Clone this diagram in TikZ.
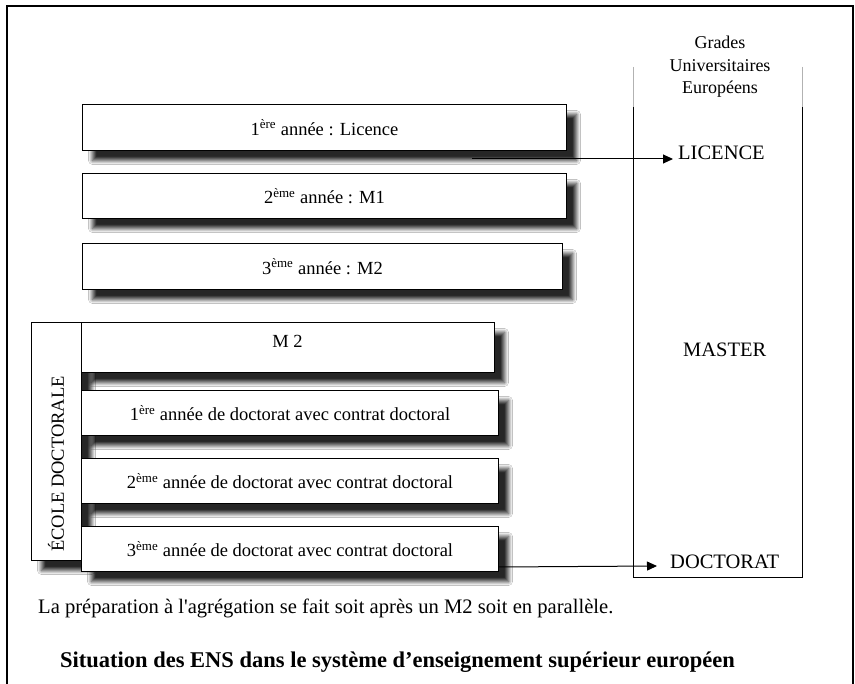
\documentclass[tikz,border=0pt]{standalone}
\usepackage{fontspec}
\setmainfont{Liberation Serif}[Ligatures=TeXOff]
\usetikzlibrary{arrows.meta,shadows.blur}
\begin{document}
\begin{tikzpicture}[x=1pt,y=-1pt,
  yearbox/.style={draw, line width=1pt, fill=white, inner sep=0pt, anchor=north west,
    blur shadow={shadow xshift=10pt, shadow yshift=-10pt, shadow opacity=85, shadow blur radius=4pt, shadow blur steps=8},
    font=\fontsize{18.5}{22}\selectfont},
  lbl/.style={inner sep=0pt, font=\fontsize{18.5}{22}\selectfont},
  grade/.style={inner sep=0pt, anchor=west, font=\fontsize{20.5}{24}\selectfont},
  arr/.style={line width=1pt, -{Triangle[length=10pt,width=9pt]}},
  colline/.style={line width=1pt},
  colgray/.style={line width=0.6pt, gray!60}
]
\useasboundingbox (0,0) rectangle (855,684);
\fill[white] (0,0) rectangle (855,684);
% outer frame (open at the bottom)
\draw[line width=2pt] (7,700) -- (7,6) -- (853,6) -- (853,700);

% right column
\draw[colgray] (633,67) -- (633,107);
\draw[colgray] (802,67) -- (802,107);
\draw[colline] (633,107) -- (633,578) -- (802,578) -- (802,107);
\node[align=center, inner sep=0pt, font=\fontsize{18}{22.5}\selectfont] (grades) at (720,67) {Grades\\Universitaires\\Européens};
\node[grade] (licence) at (678,153) {LICENCE};
\node[grade] (master) at (683,350) {MASTER};
\node[grade] (doctorat) at (670,562) {DOCTORAT};

% upper boxes
\node[yearbox, minimum width=484pt, minimum height=46pt] (b1) at (82,104) {1\textsuperscript{ère} année : Licence};
\node[yearbox, minimum width=484pt, minimum height=45pt] (b2) at (82,173) {2\textsuperscript{ème} année : M1};
\node[yearbox, minimum width=480pt, minimum height=46pt] (b3) at (82,243) {3\textsuperscript{ème} année : M2};

% école doctorale
\node[yearbox, minimum width=50pt, minimum height=238pt] (ecole) at (31,322) {};
\node[lbl, rotate=90] (ecolet) at (56,464) {ÉCOLE DOCTORALE};

% lower boxes
\node[yearbox, minimum width=413pt, minimum height=50pt] (m2) at (81,322) {};
\node[lbl] (m2t) at (287.5,341) {M 2};
\node[yearbox, minimum width=417pt, minimum height=45pt] (d1) at (81,390) {1\textsuperscript{ère} année de doctorat avec contrat doctoral};
\node[yearbox, minimum width=417pt, minimum height=45pt] (d2) at (81,458) {2\textsuperscript{ème} année de doctorat avec contrat doctoral};
\node[yearbox, minimum width=417pt, minimum height=45pt] (d3) at (81,526) {3\textsuperscript{ème} année de doctorat avec contrat doctoral};

% arrows
\coordinate (a1s) at (472,159);
\coordinate (a1e) at (673,159);
\draw[arr] (a1s) -- (a1e);
\coordinate (a2s) at ([yshift=5pt]d3.south east);
\coordinate (a2e) at (657,566);
\draw[arr] (a2s) -- (a2e);

% texts below
\node[inner sep=0pt, anchor=west, font=\fontsize{20.6}{24}\selectfont] (note) at (38,608) {La préparation à l'agrégation se fait soit après un M2 soit en parallèle.};
\node[inner sep=0pt, anchor=west, font=\bfseries\fontsize{22.5}{26}\selectfont] (title) at (60,662) {Situation des ENS dans le système d’enseignement supérieur européen};
\end{tikzpicture}
\end{document}
